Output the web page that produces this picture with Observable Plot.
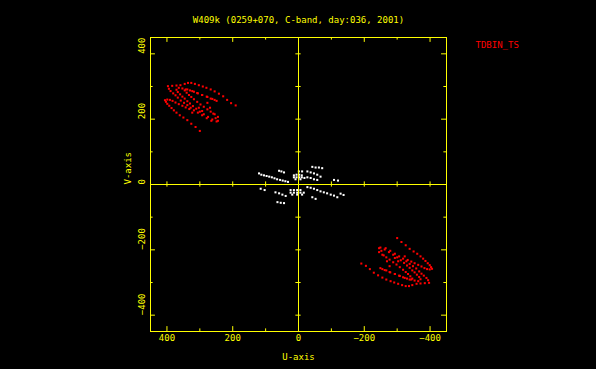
<!DOCTYPE html>
<html><head><meta charset="utf-8">
<script src="https://cdn.jsdelivr.net/npm/d3@7"></script>
<script src="https://cdn.jsdelivr.net/npm/@observablehq/plot@0.6"></script>
<style>html,body{margin:0;padding:0;background:#000;overflow:hidden;}</style>
</head><body><div id="chart"></div>
<script>
const title = "W409k (0259+070, C-band, day:036, 2001)";
const sourceName = "TDBIN_TS";
const xLabel = "U-axis";
const yLabel = "V-axis";
const majorTicks = [400, 200, 0, -200, -400];
const majorTickLabels = ["400", "200", "0", "\u2212200", "\u2212400"];
const minorTicks = [300, 100, -100, -300];
const centerTicks = [400, 300, 200, 100, -100, -200, -300, -400];

// red track points (u, v); the conjugate (-u, -v) points are also plotted
const redU = [
  397,384,371,359,346,336,326,315,303,291,280,267,255,242,229,217,205,191,
  406,403,399,393,386,379,371,361,350,338,326,313,300,
  399,391,383,374,364,353,343,332,
  394,389,381,374,367,358,348,338,328,318,306,293,279,265,
  371,367,360,353,346,338,330,321,311,300,288,275,262,249,
  346,340,333,326,318,308,298,288,277,267,255,245,
  364,353,343,330,318,306,293,279,267,255,
  338,323,308,293,277,262,249,
  277,269,259,252,245,293,303,323
];
const redV = [
  301,302,303,304,308,311,311,308,304,300,296,291,285,278,270,259,249,242,
  258,253,247,241,234,227,220,212,205,197,186,176,164,
  260,259,256,251,246,241,236,231,
  293,286,279,273,266,257,250,243,235,227,220,212,203,195,
  290,283,276,269,263,255,248,240,232,223,215,207,199,193,
  288,281,274,268,261,253,245,238,230,223,215,207,
  296,294,291,288,284,279,274,269,263,259,
  291,286,280,274,268,262,256,
  250,235,217,203,195,225,235,220
];

// white points near the centre
const whiteU = [
  120,113,105,97,89,81,73,65,56,48,40,32,
  59,52,44,
  14,6,-2,-10,14,6,-2,-10,-18,9,-6,
  -1,-11,
  -27,-37,-47,-57,-67,
  -42,-52,-62,-72,
  -27,-37,-47,-57,
  -108,-120,
  115,103,
  70,59,49,39,
  64,54,44,
  24,14,4,-6,24,14,4,-6,-16,19,4,-11,
  -27,-37,-47,-57,-67,-77,-87,-98,-108,-118,-128,-137,
  -42,-52
];
const whiteV = [
  34,30,28,26,24,22,19,16,14,12,10,8,
  42,40,37,
  28,30,30,28,22,22,22,22,20,16,16,
  40,40,
  40,37,34,30,24,
  54,52,52,50,
  22,20,16,14,
  14,12,
  -13,-17,
  -24,-27,-31,-35,
  -54,-56,-57,
  -17,-17,-17,-17,-25,-25,-25,-25,-25,-31,-31,-31,
  -8,-10,-13,-17,-21,-24,-27,-31,-34,-39,-28,-32,
  -39,-44
];

const Y = "#ffff00";
const font = "DejaVu Sans Mono";
const redIdx = d3.range(redU.length);
const whiteIdx = d3.range(whiteU.length);
const M = 450;

const chart = Plot.plot({
  width: 596,
  height: 369,
  marginLeft: 150,
  marginRight: 150,
  marginTop: 37,
  marginBottom: 38,
  x: {domain: [M, -M], axis: null},
  y: {domain: [-M, M], axis: null},
  style: {background: "#000", fontFamily: font, fontSize: "9px"},
  marks: [
    Plot.dot(whiteIdx, {x: i => whiteU[i], y: i => whiteV[i], symbol: "square", r: 1.15, fill: "#ffffff"}),
    Plot.dot(redIdx, {x: i => redU[i], y: i => redV[i], symbol: "square", r: 1.15, fill: "#ff0000"}),
    Plot.dot(redIdx, {x: i => -redU[i], y: i => -redV[i], symbol: "square", r: 1.15, fill: "#ff0000"}),
    Plot.ruleX([0], {stroke: Y}),
    Plot.ruleY([0], {stroke: Y}),
    Plot.ruleX(centerTicks, {x: d => d, y1: -8, y2: 8, stroke: Y}),
    Plot.ruleY(centerTicks, {y: d => d, x1: -8, x2: 8, stroke: Y}),
    // edge ticks (inward)
    Plot.ruleX(majorTicks, {x: d => d, y1: -M, y2: -M + 15, stroke: Y}),
    Plot.ruleX(majorTicks, {x: d => d, y1: M, y2: M - 15, stroke: Y}),
    Plot.ruleY(majorTicks, {y: d => d, x1: M, x2: M - 15, stroke: Y}),
    Plot.ruleY(majorTicks, {y: d => d, x1: -M, x2: -M + 15, stroke: Y}),
    Plot.ruleX(minorTicks, {x: d => d, y1: -M, y2: -M + 8, stroke: Y}),
    Plot.ruleX(minorTicks, {x: d => d, y1: M, y2: M - 8, stroke: Y}),
    Plot.ruleY(minorTicks, {y: d => d, x1: M, x2: M - 8, stroke: Y}),
    Plot.ruleY(minorTicks, {y: d => d, x1: -M, x2: -M + 8, stroke: Y}),
    Plot.frame({stroke: Y}),
    // tick labels
    Plot.text(majorTicks, {x: d => d, frameAnchor: "bottom", dy: 9, text: (d, i) => majorTickLabels[i], fill: Y, fontSize: 9}),
    Plot.text(majorTicks, {y: d => d, frameAnchor: "left", dx: -8, rotate: -90, text: (d, i) => majorTickLabels[i], fill: Y, fontSize: 9}),
    // axis labels and title
    Plot.text([xLabel], {frameAnchor: "bottom", dy: 28, text: d => d, fill: Y, fontSize: 9}),
    Plot.text([yLabel], {frameAnchor: "left", dx: -22, rotate: -90, text: d => d, fill: Y, fontSize: 9}),
    Plot.text([title], {frameAnchor: "top", dy: -21, text: d => d, fill: Y, fontSize: 9}),
    Plot.text([sourceName], {frameAnchor: "top-right", dx: 29, dy: 4, textAnchor: "start", text: d => d, fill: "#ff0000", fontSize: 9})
  ]
});
document.getElementById("chart").appendChild(chart);
</script>
</body></html>
